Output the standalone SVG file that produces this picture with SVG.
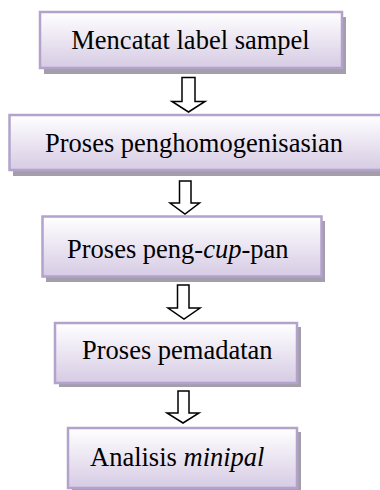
<svg xmlns="http://www.w3.org/2000/svg" width="380" height="490" viewBox="0 0 380 490">
<defs>
<linearGradient id="g" x1="0" y1="0" x2="0" y2="1">
<stop offset="0" stop-color="#ffffff"/>
<stop offset="1" stop-color="#d6cbe4"/>
</linearGradient>
<style>
.sh{fill:#a39eaa}
.bx{fill:url(#g);stroke:#b3a2cc;stroke-width:2.5}
.t{font-family:"Liberation Serif","Times New Roman",serif;font-size:26.5px;fill:#000}
.ar{fill:#fff;stroke:#000;stroke-width:1.5;stroke-linejoin:miter}
</style>
</defs>
<rect width="380" height="490" fill="#fff"/>
<g id="n1">
<rect class="sh" x="44" y="17" width="302" height="57"/>
<rect class="bx" x="40" y="12" width="302" height="56"/>
<text class="t" x="190.5" y="49" text-anchor="middle">Mencatat label sampel</text>
</g>
<g id="n2">
<rect class="sh" x="13" y="120" width="380" height="56"/>
<rect class="bx" x="9.5" y="115" width="380" height="55"/>
<text class="t" x="45" y="152">Proses  penghomogenisasian</text>
</g>
<g id="n3">
<rect class="sh" x="46" y="221" width="279" height="61"/>
<rect class="bx" x="42.5" y="216.5" width="279" height="60"/>
<text class="t" x="67" y="258">Proses peng-<tspan font-style="italic">cup</tspan>-pan</text>
</g>
<g id="n4">
<rect class="sh" x="59" y="327" width="242" height="60"/>
<rect class="bx" x="55" y="323" width="242" height="60"/>
<text class="t" x="82" y="359">Proses pemadatan</text>
</g>
<g id="n5">
<rect class="sh" x="72" y="432" width="229" height="62"/>
<rect class="bx" x="68" y="428" width="229" height="60"/>
<text class="t" x="90" y="466">Analisis <tspan font-style="italic">minipal</tspan></text>
</g>
<g id="connectors">
<polygon class="ar" points="182,77.5 195,77.5 195,101.5 205,101.5 188.5,112 172,101.5 182,101.5"/>
<polygon class="ar" points="179.5,181 191,181 191,203 199.5,203 185,214 170,203 179.5,203"/>
<polygon class="ar" points="177.5,285 189,285 189,308 200,308 184,319 168,308 177.5,308"/>
<polygon class="ar" points="178,391 189,391 189,413 199,413 183,423 167,413 178,413"/>
</g>
</svg>
